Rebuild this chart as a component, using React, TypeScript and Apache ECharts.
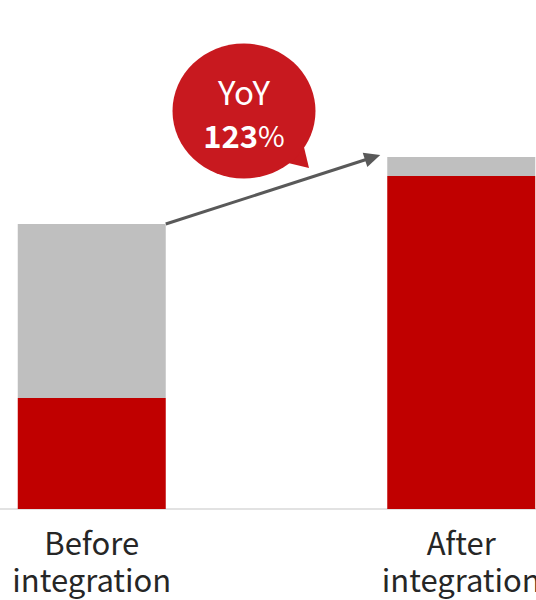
import React, { useEffect, useRef } from "react";
import * as echarts from "echarts";

const categories = ["Before\nintegration", "After\nintegration"];
const redValues = [111, 333];
const grayValues = [174, 19];
const yoyLabel = "YoY";
const yoyValue = "123";

export default function App() {
  const ref = useRef<HTMLDivElement>(null);
  useEffect(() => {
    document.body.style.margin = "0";
    const chart = echarts.init(ref.current!, null, { renderer: "svg" });
    const font = "'Noto Sans CJK JP', 'Noto Sans', sans-serif";
    chart.setOption({
      animation: false,
      grid: {
        left: -93,
        right: -110,
        top: 9,
        bottom: 91,
        containLabel: false,
        outerBoundsMode: "none",
      },
      xAxis: {
        type: "category",
        data: categories,
        axisLine: { show: true, lineStyle: { color: "#d9d9d9", width: 1.5 } },
        axisTick: { show: false },
        axisLabel: {
          color: "#262626",
          fontSize: 31,
          fontFamily: font,
          lineHeight: 37,
          margin: 14,
          interval: 0,
        },
      },
      yAxis: {
        type: "value",
        min: 0,
        max: 500,
        show: false,
        splitLine: { show: false },
      },
      series: [
        {
          type: "bar",
          stack: "s",
          data: redValues,
          barWidth: 148,
          itemStyle: { color: "#C00000" },
        },
        {
          type: "bar",
          stack: "s",
          data: grayValues,
          barWidth: 148,
          itemStyle: { color: "#BFBFBF" },
        },
      ],
    });

    const p0 = chart.convertToPixel({ gridIndex: 0 }, [0, redValues[0] + grayValues[0]]) as number[];
    const p1 = chart.convertToPixel({ gridIndex: 0 }, [1, redValues[1] + grayValues[1]]) as number[];
    const x0 = p0[0] + 74;
    const y0 = p0[1];
    const tipX = p1[0] - 74 - 7;
    const tipY = p1[1] - 2;
    const dx = tipX - x0;
    const dy = tipY - y0;
    const len = Math.sqrt(dx * dx + dy * dy);
    const ux = dx / len;
    const uy = dy / len;
    const headLen = 16;
    const headW = 7.5;
    const bx = tipX - ux * headLen;
    const by = tipY - uy * headLen;

    chart.setOption({
      graphic: [
        {
          type: "line",
          shape: { x1: x0, y1: y0, x2: bx + ux * 2, y2: by + uy * 2 },
          style: { stroke: "#595959", lineWidth: 3 },
        },
        {
          type: "polygon",
          shape: {
            points: [
              [tipX, tipY],
              [bx - uy * headW, by + ux * headW],
              [bx + uy * headW, by - ux * headW],
            ],
          },
          style: { fill: "#595959" },
        },
        {
          type: "polygon",
          shape: { points: [[284, 162], [309, 168], [303, 143]] },
          style: { fill: "#C8191F" },
        },
        {
          type: "ellipse",
          shape: { cx: 244, cy: 111, rx: 71.5, ry: 67.5 },
          style: { fill: "#C8191F" },
        },
        {
          type: "text",
          x: 244,
          y: 91,
          style: {
            text: yoyLabel,
            fill: "#ffffff",
            font: `33px ${font}`,
            align: "center",
            verticalAlign: "middle",
          },
        },
        {
          type: "text",
          x: 244,
          y: 134,
          style: {
            text: `{b|${yoyValue}}{p|%}`,
            align: "center",
            verticalAlign: "middle",
            rich: {
              b: { fill: "#ffffff", fontSize: 31, fontWeight: "bold", fontFamily: font },
              p: { fill: "#ffffff", fontSize: 29, fontWeight: "normal", fontFamily: font },
            },
          },
        },
      ],
    });
    return () => chart.dispose();
  }, []);
  return <div ref={ref} style={{ width: 536, height: 600 }} />;
}
